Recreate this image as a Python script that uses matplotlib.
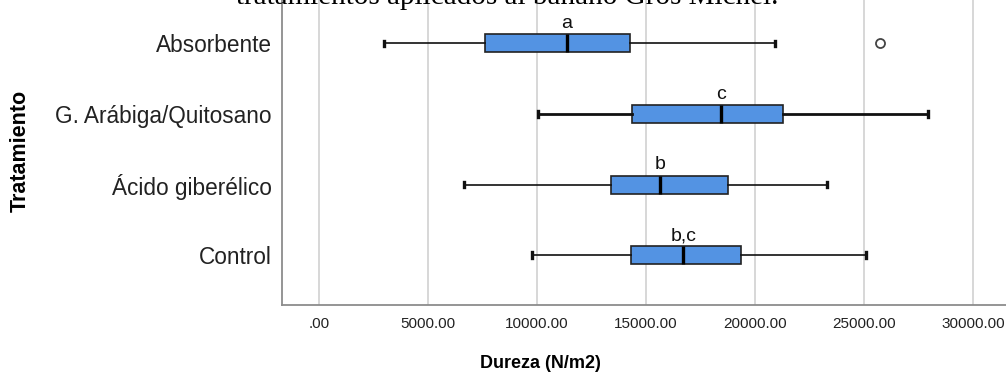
import matplotlib.pyplot as plt

# Data, bottom to top
treatments = ["Control", "Ácido giberélico", "G. Arábiga/Quitosano", "Absorbente"]
whisker_lo = [9785, 6635, 10060, 2980]
q1 = [14324, 13379, 14352, 7610]
median = [16712, 15630, 18433, 11355]
q3 = [19329, 18735, 21278, 14277]
whisker_hi = [25100, 23300, 27913, 20913]
outliers = [[], [], [], [25740]]
letters = ["b,c", "b", "c", "a"]
xticks = [0, 5000, 10000, 15000, 20000, 25000, 30000]
xtick_labels = [".00", "5000.00", "10000.00", "15000.00", "20000.00", "25000.00", "30000.00"]

box_color = "#5393e3"

fig = plt.figure(figsize=(10.06, 3.79), dpi=100)
ax = fig.add_axes([0.2806, 0.1953, 0.7194, 0.8047])

positions = list(range(1, len(treatments) + 1))
for i, pos in enumerate(positions):
    stats = [{
        "whislo": whisker_lo[i], "q1": q1[i], "med": median[i],
        "q3": q3[i], "whishi": whisker_hi[i], "fliers": outliers[i],
    }]
    lw = 2.0 if treatments[i] == "G. Arábiga/Quitosano" else 1.2
    ax.bxp(stats, positions=[pos], vert=False, widths=0.255, patch_artist=True,
           boxprops=dict(facecolor=box_color, edgecolor="#222222", linewidth=1.2),
           medianprops=dict(color="black", linewidth=2.4),
           whiskerprops=dict(color="#111111", linewidth=lw),
           capprops=dict(color="#111111", linewidth=2.4),
           capwidths=0.08,
           flierprops=dict(marker="o", markersize=6.5, markerfacecolor="white",
                           markeredgecolor="#444444", markeredgewidth=1.3),
           zorder=3)
    ax.annotate(letters[i], xy=(median[i], pos + 0.255 / 2), xytext=(0, 1.5),
                textcoords="offset points", ha="center", va="bottom",
                fontsize=14, family="Liberation Sans", color="#111111")

ax.set_xlim(-1683, 31500)
ax.set_ylim(0.293, 4.615)
ax.set_yticks(positions)
ax.set_yticklabels(treatments, fontsize=16.3, family="Liberation Sans", color="#222222")
ax.set_xticks(xticks)
ax.set_xticklabels(xtick_labels, fontsize=11, family="Liberation Sans", color="#222222")
ax.tick_params(axis="y", length=0, pad=7.5)
ax.tick_params(axis="x", length=0, pad=9)

ax.grid(axis="x", color="#d4d4d4", linewidth=1.3, zorder=0)
ax.set_axisbelow(True)
for side in ["top", "right"]:
    ax.spines[side].set_visible(False)
for side in ["left", "bottom"]:
    ax.spines[side].set_color("#8c8c8c")
    ax.spines[side].set_linewidth(1.3)

fig.text(540 / 1006, 1 - 363 / 379, "Dureza (N/m2)", ha="center", va="center",
         fontsize=13, fontweight="bold", family="Liberation Sans")
fig.text(20 / 1006, 1 - 151 / 379, "Tratamiento", ha="center", va="center",
         rotation=90, fontsize=15.5, fontweight="bold", family="Liberation Sans")
fig.text(507 / 1006, 1 - 4 / 379, "tratamientos aplicados al banano Gros Michel.",
         ha="center", va="baseline", fontsize=21, family="Liberation Serif")

fig.savefig("out.png", dpi=100)
